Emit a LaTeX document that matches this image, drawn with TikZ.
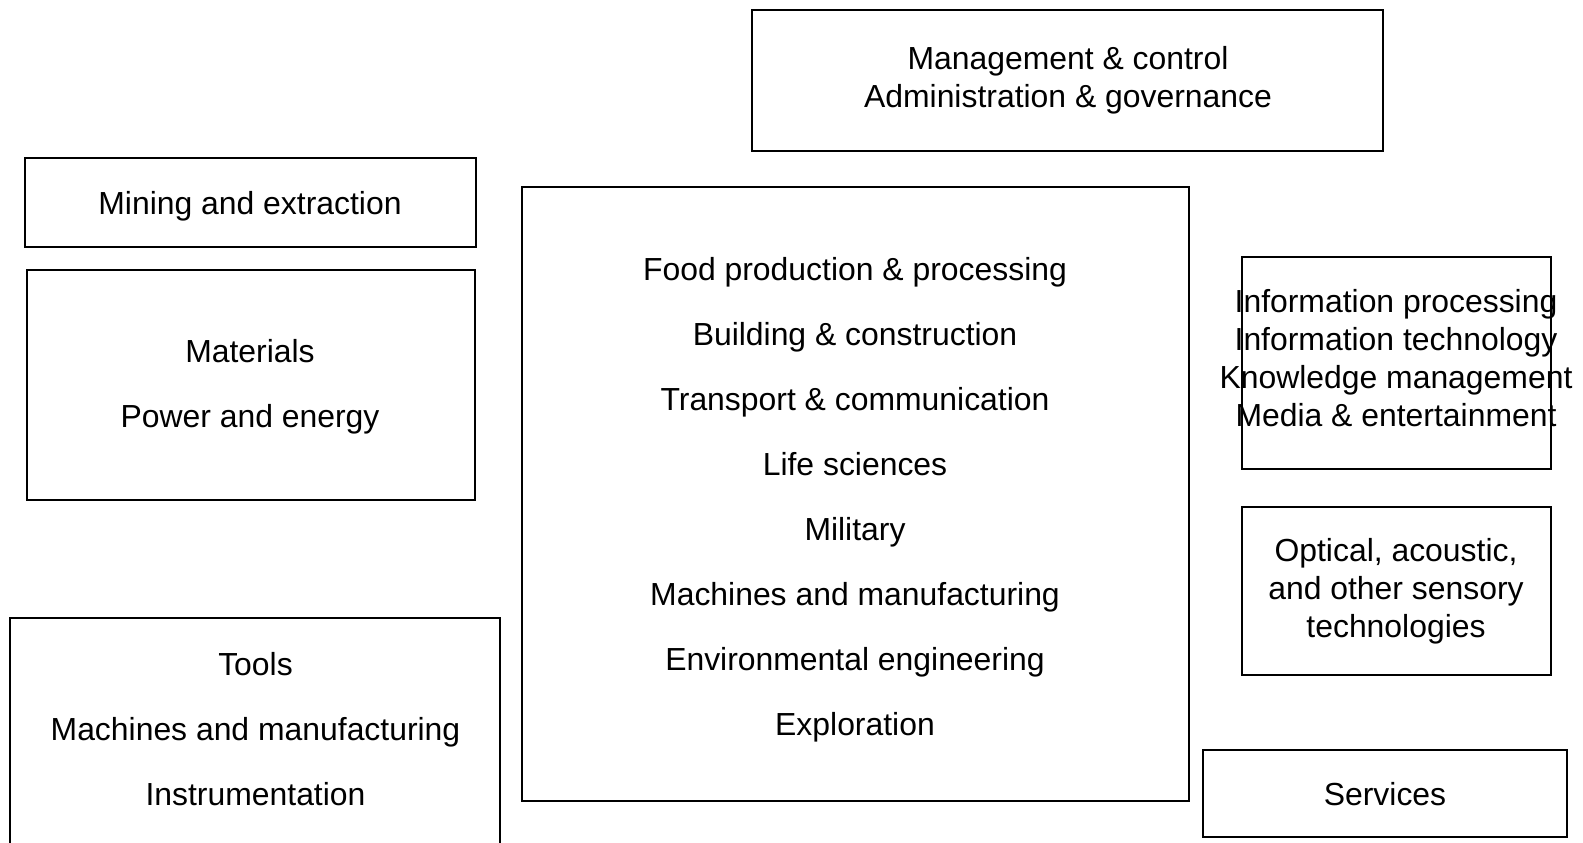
\documentclass[tikz,border=0pt]{standalone}
\usepackage{fontspec}
\setmainfont{Liberation Sans}
\begin{document}
\begin{tikzpicture}[x=1pt,y=-1pt,
  box/.style={draw=black, line width=2.8pt, inner sep=0pt, outer sep=0pt},
  tight/.style={align=center, inner sep=0pt, font=\fontsize{31.9}{38}\selectfont},
  wide/.style={align=center, inner sep=0pt, font=\fontsize{31.9}{65}\selectfont}]
\useasboundingbox (0,0) rectangle (1583,843);
\clip (0,0) rectangle (1583,843);
\fill[white] (0,0) rectangle (1583,843);
% boxes
\node[box, minimum width=631pt, minimum height=141pt] (mgmt) at (1067.5,80.5) {};
\node[box, minimum width=451pt, minimum height=89pt] (mining) at (250.5,202.5) {};
\node[box, minimum width=448pt, minimum height=230pt] (materials) at (251,385) {};
\node[box, minimum width=490pt, minimum height=252pt] (tools) at (255,744) {};
\node[box, minimum width=667pt, minimum height=614pt] (center) at (855.5,494) {};
\node[box, minimum width=309pt, minimum height=212pt] (info) at (1396.5,363) {};
\node[box, minimum width=309pt, minimum height=168pt] (optical) at (1396.5,591) {};
\node[box, minimum width=364pt, minimum height=87pt] (services) at (1385,793.5) {};
% texts
\node[tight] (mgmtT) at (1068,80) {Management \& control\\Administration \& governance};
\node[tight] (miningT) at (250,206) {Mining and extraction};
\node[wide] (materialsT) at (250,386.5) {Materials\\Power and energy};
\node[wide] (toolsT) at (255.5,729) {Tools\\Machines and manufacturing\\Instrumentation};
\node[wide] (centerT) at (855,500) {Food production \& processing\\Building \& construction\\Transport \& communication\\Life sciences\\Military\\Machines and manufacturing\\Environmental engineering\\Exploration};
\node[tight] (infoT) at (1396,358) {Information processing\\Information technology\\Knowledge management\\Media \& entertainment};
\node[tight] (opticalT) at (1396,591) {Optical, acoustic,\\and other sensory\\technologies};
\node[tight] (servicesT) at (1385,794) {Services};
\end{tikzpicture}
\end{document}
